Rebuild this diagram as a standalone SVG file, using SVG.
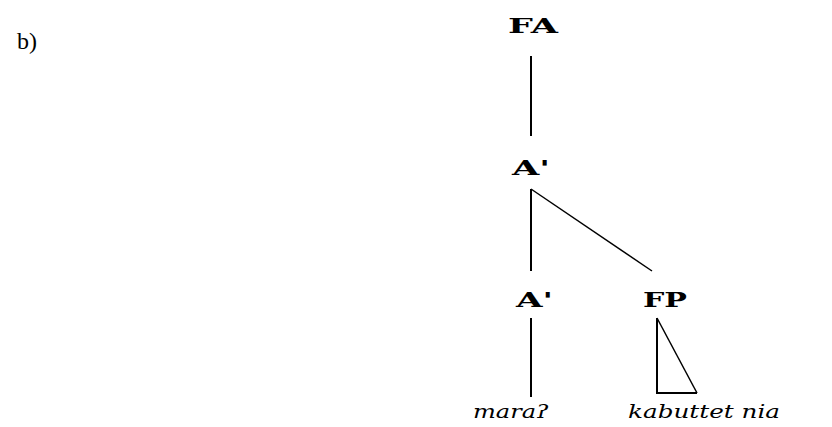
<svg xmlns="http://www.w3.org/2000/svg" width="832" height="427" viewBox="0 0 832 427">
<style>
.lbl{font-family:"DejaVu Serif","Liberation Serif",serif;font-weight:bold;font-size:20px;fill:#000}
.leaf{font-family:"DejaVu Serif","Liberation Serif",serif;font-style:italic;font-size:19px;fill:#000}
.txt{font-family:"Liberation Serif","Times New Roman",serif;font-size:24px;fill:#000}
.edge{stroke:#000;stroke-width:2;fill:none}
.thin{stroke:#000;stroke-width:1.5;fill:none}
</style>
<rect width="832" height="427" fill="#fff"/>
<text class="txt" x="17" y="49">b)</text>
<g id="connectors">
<line class="edge" x1="531" y1="56" x2="531" y2="136"/>
<line class="edge" x1="531" y1="189" x2="531" y2="271"/>
<line class="thin" x1="531" y1="189" x2="652" y2="271"/>
<line class="edge" x1="531" y1="318" x2="531" y2="397"/>
<path class="edge" d="M657 318 L657 393 L697 393"/>
<line class="thin" x1="657" y1="318" x2="697" y2="393"/>
</g>
<g id="FA"><text class="lbl" x="508" y="33" textLength="50" lengthAdjust="spacingAndGlyphs">FA</text></g>
<g id="A1"><text class="lbl" x="512" y="175" textLength="38" lengthAdjust="spacingAndGlyphs">A'</text></g>
<g id="A2"><text class="lbl" x="516" y="307" textLength="37" lengthAdjust="spacingAndGlyphs">A'</text></g>
<g id="FP"><text class="lbl" x="643" y="307" textLength="44" lengthAdjust="spacingAndGlyphs">FP</text></g>
<g id="mara"><text class="leaf" x="473" y="418" textLength="76" lengthAdjust="spacingAndGlyphs">maraʔ</text></g>
<g id="kabuttet"><text class="leaf" x="628" y="418" textLength="152" lengthAdjust="spacingAndGlyphs">kabuttet nia</text></g>
</svg>
